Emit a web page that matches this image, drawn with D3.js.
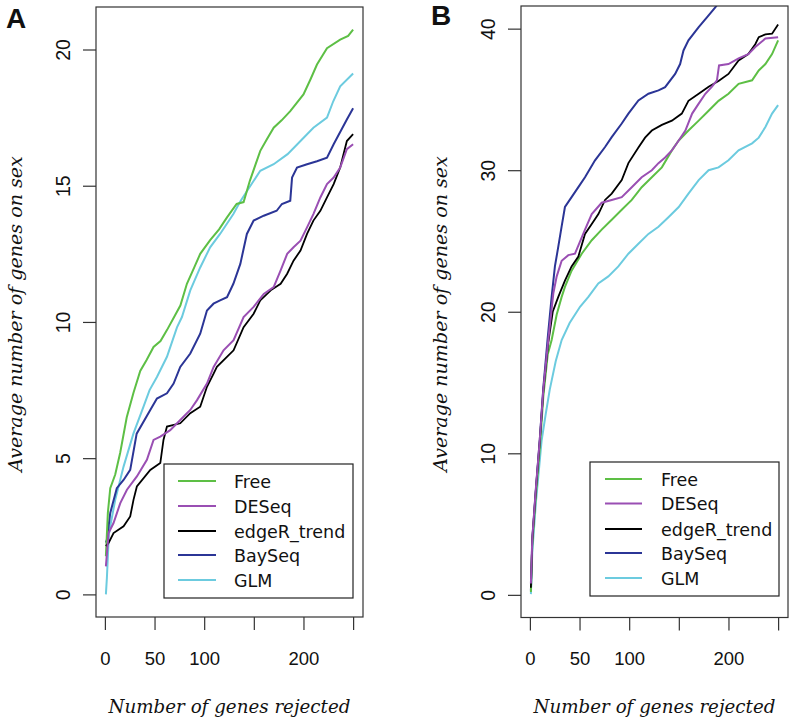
<!DOCTYPE html>
<html>
<head>
<meta charset="utf-8">
<script src="https://cdn.jsdelivr.net/npm/d3@7"></script>
<style>
  html, body { margin: 0; padding: 0; background: #ffffff; }
  svg { display: block; }
</style>
</head>
<body>
<svg id="chart" width="793" height="725"></svg>
<script>
// ---------- data ----------
const methods = ["Free", "DESeq", "edgeR_trend", "BaySeq", "GLM"];
const xTicks = [0, 50, 100, 150, 200, 250];
const xTickLabels = ["0", "50", "100", "", "200", ""];
const yTicksA = [0, 5, 10, 15, 20];
const yTicksB = [0, 10, 20, 30, 40];
const panelLabels = ["A", "B"];
const xTitle = "Number of genes rejected";
const yTitle = "Average number of genes on sex";

// Panel A series: [genes rejected, average number on sex]
const A_Free = [[1,1.4],[3,3.0],[5.4,3.9],[10.4,4.4],[15.4,5.2],[22,6.5],[28.8,7.4],[35.6,8.2],[42,8.6],[49,9.08],[56,9.3],[62.5,9.7],[70,10.2],[76,10.6],[82.6,11.4],[90,12.0],[96,12.5],[106,13.0],[115,13.4],[123,13.84],[132.7,14.33],[139.7,14.4],[146,15.18],[156.5,16.28],[163,16.7],[170,17.13],[178,17.4],[186.7,17.74],[200,18.35],[207,18.9],[213.6,19.45],[223.7,20.05],[237,20.36],[245,20.5],[250,20.73]];
const A_DESeq = [[1,1.03],[3.7,2.25],[8.7,2.62],[15.5,3.35],[22.2,3.84],[32.2,4.33],[42.3,4.94],[49,5.67],[55.8,5.79],[65.8,6.03],[75.9,6.4],[86,6.77],[92.8,7.13],[102.8,7.74],[109.5,8.35],[119.5,8.96],[129.6,9.33],[139.7,10.18],[149.8,10.55],[160,11.03],[170,11.28],[177,11.89],[183.6,12.5],[190,12.74],[197,12.98],[203.6,13.47],[210,13.96],[217,14.57],[223.7,15.06],[230.4,15.3],[237,15.67],[243.7,16.34],[250,16.52]];
const A_edgeR = [[1,1.77],[3.7,1.89],[8.7,2.25],[18.8,2.5],[25.5,2.86],[28.8,3.47],[32.2,3.96],[45.7,4.57],[55.8,4.82],[59,5.67],[62.5,6.16],[75.9,6.28],[86,6.65],[96,6.89],[102.8,7.62],[109.5,8.1],[112.8,8.35],[129.6,8.96],[139.7,9.81],[149.8,10.3],[156.5,10.79],[167,11.16],[177,11.4],[183.6,11.77],[190,12.25],[197,12.62],[203.6,13.23],[210,13.72],[217,14.08],[223.7,14.57],[230.4,15.06],[237,15.67],[243.7,16.64],[250,16.89]];
const A_BaySeq = [[1,1.9],[2,2.0],[5.4,2.99],[12,3.9],[18.8,4.2],[25.5,4.57],[32,5.9],[45.7,6.77],[52.4,7.19],[62.5,7.38],[69.2,7.74],[75.9,8.35],[86,8.84],[96,9.57],[102.8,10.42],[109.4,10.67],[116,10.79],[123,10.91],[129.4,11.4],[136.4,12.13],[143,13.23],[149.8,13.72],[160,13.9],[173,14.08],[178.3,14.33],[186.7,14.45],[188.5,15.3],[193.5,15.67],[203.6,15.79],[213.6,15.9],[223.7,16.03],[230.4,16.52],[243.7,17.43],[250,17.84]];
const A_GLM = [[1,0],[2,0.6],[4,2.2],[5.4,2.5],[10.4,3.47],[18.8,4.69],[28.8,5.91],[38.9,6.89],[45,7.5],[52.4,7.98],[62.5,8.72],[72.6,9.8],[77.6,10.18],[86,11.16],[96,12.0],[106,12.74],[116,13.23],[129.4,13.96],[136,14.4],[143,14.8],[156.5,15.55],[170,15.79],[184,16.16],[197,16.64],[210,17.13],[223.7,17.5],[230,18.1],[237,18.65],[250,19.12]];

// Panel B series
const B_Free = [[1,0.2],[2.4,3.6],[6,7.0],[10.1,10.5],[13.5,14.0],[18,17.0],[21.9,18.0],[27,19.8],[32,21.05],[35.3,21.76],[42,22.9],[52.2,24.1],[62.3,25.05],[72.3,25.8],[82.4,26.5],[92.5,27.2],[102.6,27.9],[112.6,28.8],[122.8,29.5],[132.9,30.2],[143,31.4],[149.9,32.1],[159.7,32.8],[170,33.5],[180,34.2],[190,34.9],[200,35.4],[210.2,36.1],[223.8,36.35],[230.5,37.05],[237.2,37.5],[243.9,38.2],[250,39.17]];
const B_DESeq = [[1,0.8],[2.4,4.0],[6,7.5],[10,11],[13.5,14.5],[18.5,18],[23.6,21.3],[27,22.5],[32,23.6],[38.7,24.0],[45.4,24.1],[55.5,25.8],[62.3,26.9],[72.3,27.7],[82.4,27.9],[92.5,28.1],[102.6,28.8],[112.6,29.5],[122.8,30.0],[129.5,30.5],[136.2,30.9],[143,31.4],[149.9,32.1],[156.6,32.8],[163.4,34.0],[170,34.7],[176.7,35.4],[183.4,35.9],[188.4,36.35],[190.5,37.4],[200,37.5],[210.2,37.9],[220,38.2],[227,38.7],[237.2,39.3],[250,39.4]];
const B_edgeR = [[1,0.5],[2.4,3.9],[6,7.4],[10,10.9],[13.5,14.4],[18.5,17.8],[23,20.0],[28.6,21.05],[35.3,22.2],[42,23.2],[48.8,23.9],[55.5,25.5],[62.3,26.2],[69,26.9],[75.7,27.9],[82.4,28.35],[92.5,29.3],[99.2,30.5],[109.3,31.6],[116,32.3],[122.8,32.8],[132.9,33.2],[143,33.5],[153,34.0],[159.7,34.9],[170,35.4],[180,35.9],[190,36.3],[200,36.8],[210.2,37.75],[220,38.2],[227,38.9],[230.5,39.4],[237.2,39.6],[243.9,39.64],[250,40.3]];
const B_BaySeq = [[1,0.3],[2.4,3.9],[6,7.4],[10,11],[13.5,14.6],[18,18.2],[21.9,21.05],[25.2,23.2],[28.6,24.6],[31.9,26],[35.3,27.4],[42,28.1],[48.8,28.8],[55.5,29.5],[65.6,30.7],[75.7,31.64],[82.4,32.34],[92.5,33.3],[99.2,34.0],[109.3,34.93],[119.4,35.4],[129.5,35.64],[136.2,35.87],[146.3,36.8],[151.3,37.5],[154.7,38.46],[159.7,39.17],[170,40.1],[178.3,40.8],[186.7,41.5],[195,42.3]];
const B_GLM = [[1,0.05],[2.4,3.0],[6,6.5],[11.8,10.9],[16,12.8],[20,14.5],[26,16.5],[32,18.0],[40,19.2],[50.5,20.35],[58.9,21.05],[68.9,22.0],[79,22.5],[89.1,23.2],[99.2,24.1],[109.3,24.8],[119.4,25.5],[129.5,26.0],[139.8,26.7],[149.9,27.4],[159.7,28.35],[170,29.3],[180,30.0],[190,30.2],[200,30.7],[210.2,31.4],[223.8,31.9],[230.5,32.3],[237.2,33.05],[243.9,34.0],[250,34.6]];

const seriesA = [A_Free, A_DESeq, A_edgeR, A_BaySeq, A_GLM];
const seriesB = [B_Free, B_DESeq, B_edgeR, B_BaySeq, B_GLM];

// ---------- styles / layout ----------
const colors = ["#5dbf45", "#9a4fb3", "#000000", "#2b3596", "#6ccbdf"];

const panels = [
  { id: "A", series: seriesA, yTicks: yTicksA, xDomain: [-8.96, 259.96], yDomain: [-0.83, 21.56],
    box: { x0: 96, x1: 363, y0: 7, y1: 617 }, labelPos: [6, 28], yTitleX: 22, yTickX: 70,
    legend: { x0: 164, x1: 353, y0: 464, y1: 598, lx0: 178, lx1: 216, tx: 234, ys: [481, 506, 531, 555, 580] } },
  { id: "B", series: seriesB, yTicks: yTicksB, xDomain: [-8.96, 259.96], yDomain: [-1.6, 41.6],
    box: { x0: 521, x1: 788, y0: 6, y1: 617.5 }, labelPos: [431, 25], yTitleX: 447, yTickX: 495,
    legend: { x0: 590, x1: 779, y0: 462, y1: 596, lx0: 605, lx1: 642, tx: 661, ys: [479, 503.5, 529, 553, 578] } }
];

const svg = d3.select("#chart");
const sansFont = "'Liberation Sans', Arial, Helvetica, sans-serif";
const serifFont = "'DejaVu Serif', 'Liberation Serif', serif";

panels.forEach((p, pi) => {
  const b = p.box;
  const x = d3.scaleLinear().domain(p.xDomain).range([b.x0, b.x1]);
  const y = d3.scaleLinear().domain(p.yDomain).range([b.y1, b.y0]);
  const g = svg.append("g");

  // clip
  const clipId = "clip" + p.id;
  svg.append("defs").append("clipPath").attr("id", clipId)
    .append("rect").attr("x", b.x0).attr("y", b.y0)
    .attr("width", b.x1 - b.x0).attr("height", b.y1 - b.y0);

  // lines
  const line = d3.line().x(d => x(d[0])).y(d => y(d[1])).curve(d3.curveLinear);
  const lg = g.append("g").attr("clip-path", `url(#${clipId})`);
  // draw in order so black/purple interplay is similar
  const order = [4, 3, 0, 2, 1];
  order.forEach(i => {
    lg.append("path").datum(p.series[i])
      .attr("d", line)
      .attr("fill", "none")
      .attr("stroke", colors[i])
      .attr("stroke-width", i === 2 ? 1.8 : 2)
      .attr("stroke-linejoin", "miter");
  });

  // box
  g.append("rect").attr("x", b.x0).attr("y", b.y0)
    .attr("width", b.x1 - b.x0).attr("height", b.y1 - b.y0)
    .attr("fill", "none").attr("stroke", "#333").attr("stroke-width", 1.2);

  // x axis
  const xAxis = d3.axisBottom(x).tickValues(xTicks).tickSize(13)
    .tickFormat((d, i) => xTickLabels[i]);
  const xg = g.append("g").attr("transform", `translate(0,${b.y1})`).call(xAxis);
  xg.select(".domain").remove();
  xg.selectAll(".tick line").attr("stroke", "#333").attr("stroke-width", 1.2);
  xg.selectAll(".tick text").attr("font-family", sansFont).attr("font-size", 18.5)
    .attr("fill", "#111").attr("dy", null).attr("y", 665 - b.y1);

  // y axis
  const yAxis = d3.axisLeft(y).tickValues(p.yTicks).tickSize(13).tickFormat(d3.format("d"));
  const yg = g.append("g").attr("transform", `translate(${b.x0},0)`).call(yAxis);
  yg.select(".domain").remove();
  yg.selectAll(".tick line").attr("stroke", "#333").attr("stroke-width", 1.2);
  yg.selectAll(".tick text")
    .attr("font-family", sansFont).attr("font-size", 19.5).attr("fill", "#111")
    .attr("text-anchor", "middle").attr("x", null).attr("dy", null)
    .attr("transform", `translate(${p.yTickX - b.x0},0) rotate(-90)`);

  // axis titles
  const cx = (b.x0 + b.x1) / 2;
  const xt = g.append("text").text(xTitle)
    .attr("x", cx).attr("y", 713).attr("text-anchor", "middle")
    .attr("font-family", serifFont).attr("font-style", "italic")
    .attr("font-size", 20).attr("fill", "#111");
  let w = xt.node().getComputedTextLength();
  if (w > 0) xt.attr("font-size", 20 * 242 / w);

  const cy = 314;
  const yt = g.append("text").text(yTitle)
    .attr("transform", `translate(${p.yTitleX},${cy}) rotate(-90)`)
    .attr("text-anchor", "middle")
    .attr("font-family", serifFont).attr("font-style", "italic")
    .attr("font-size", 20).attr("fill", "#111");
  w = yt.node().getComputedTextLength();
  if (w > 0) yt.attr("font-size", 20 * 316 / w);

  // panel label
  g.append("text").text(panelLabels[pi])
    .attr("x", p.labelPos[0]).attr("y", p.labelPos[1])
    .attr("font-family", sansFont).attr("font-weight", "bold")
    .attr("font-size", 28).attr("fill", "#111");

  // legend
  const L = p.legend;
  const leg = g.append("g");
  leg.append("rect").attr("x", L.x0).attr("y", L.y0)
    .attr("width", L.x1 - L.x0).attr("height", L.y1 - L.y0)
    .attr("fill", "#fff").attr("stroke", "#222").attr("stroke-width", 1.2);
  methods.forEach((m, i) => {
    leg.append("line").attr("x1", L.lx0).attr("x2", L.lx1)
      .attr("y1", L.ys[i]).attr("y2", L.ys[i])
      .attr("stroke", colors[i]).attr("stroke-width", 2);
    leg.append("text").text(m)
      .attr("x", L.tx).attr("y", L.ys[i] + 6.5)
      .attr("font-family", "'DejaVu Sans', sans-serif").attr("font-size", 17.5)
      .attr("fill", "#111");
  });
});
</script>
</body>
</html>
